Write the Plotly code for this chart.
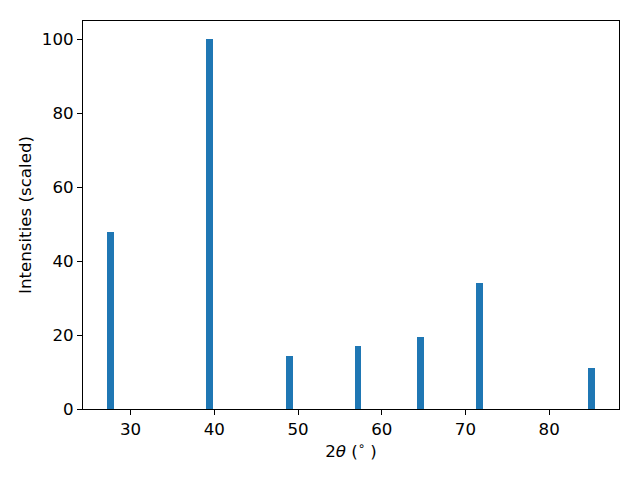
import plotly.graph_objects as go

two_theta = [27.63, 39.46, 48.95, 57.15, 64.6, 71.65, 85.03]
intensity = [48.0, 100.0, 14.4, 17.1, 19.5, 34.1, 11.1]
x_ticks = [30, 40, 50, 60, 70, 80]
y_ticks = [0, 20, 40, 60, 80, 100]

fig = go.Figure()
fig.add_trace(go.Bar(x=two_theta, y=intensity, width=0.8,
                     marker=dict(color="#1f77b4", line=dict(width=0))))

font = dict(family="DejaVu Sans", size=16.67, color="black")
fig.update_layout(
    width=624, height=464,
    margin=dict(l=75, r=13, t=13, b=63, autoexpand=False),
    plot_bgcolor="white", paper_bgcolor="white",
    font=font, showlegend=False, bargap=0,
)
axis_common = dict(showline=True, linecolor="black", linewidth=1, mirror=True,
                   ticks="outside", ticklen=5, tickwidth=1, tickcolor="black",
                   showgrid=False, zeroline=False, tickfont=font)
fig.update_xaxes(range=[24.32, 88.34], tickvals=x_ticks,
                 title=dict(text="2<i>θ</i> (<sup>∘</sup> )", font=font, standoff=6),
                 **axis_common)
fig.update_yaxes(range=[0, 105], tickvals=y_ticks,
                 title=dict(text="Intensities (scaled)", font=font, standoff=6),
                 **axis_common)

fig.write_html("out.html")
